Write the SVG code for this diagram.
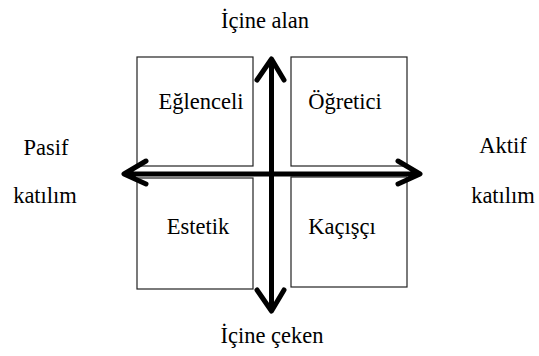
<svg xmlns="http://www.w3.org/2000/svg" width="539" height="356" viewBox="0 0 539 356">
<style>
.box{fill:#fff;stroke:#222;stroke-width:1.2}
.t{font-family:'Liberation Serif','Times New Roman',serif;font-size:22.5px;fill:#000;text-anchor:middle}
.ax{stroke:#000;stroke-width:5;fill:none;stroke-linecap:round;stroke-linejoin:round}
</style>
<rect width="539" height="356" fill="#fff"/>
<g id="eglenceli"><rect class="box" x="137" y="57" width="116" height="109"/><text class="t" x="201" y="109">Eğlenceli</text></g>
<g id="ogretici"><rect class="box" x="291" y="57" width="116" height="109"/><text class="t" x="345" y="109">Öğretici</text></g>
<g id="estetik"><rect class="box" x="137" y="178" width="116" height="111"/><text class="t" x="198" y="234">Estetik</text></g>
<g id="kacisci"><rect class="box" x="291" y="177" width="116" height="110"/><text class="t" x="342" y="234">Kaçışçı</text></g>
<g id="connectors">
<path class="ax" d="M271.5 60 V310 M257 80 L271.5 59 L284 80 M257 290 L271.5 311 L284 290"/>
<path class="ax" d="M125 174 H419 M146 161 L124 174 L146 184 M398 161 L420 174 L398 184"/>
</g>
<g id="labels">
<text class="t" x="265" y="28">İçine alan</text>
<text class="t" x="272" y="343">İçine çeken</text>
<text class="t" x="46" y="155">Pasif</text>
<text class="t" x="45" y="203">katılım</text>
<text class="t" x="503" y="153">Aktif</text>
<text class="t" x="503" y="203">katılım</text>
</g>
</svg>
